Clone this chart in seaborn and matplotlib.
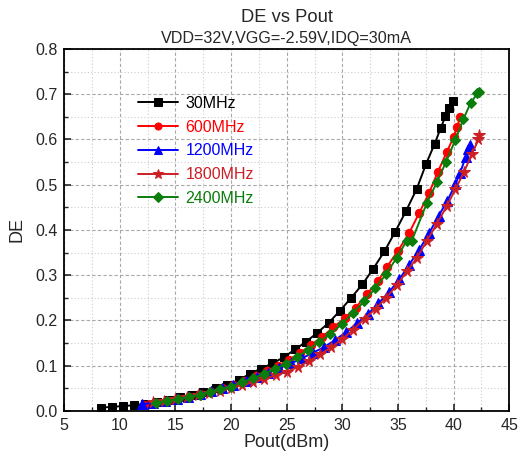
import numpy as np
import pandas as pd
import matplotlib
matplotlib.use("Agg")
import matplotlib.pyplot as plt
import seaborn as sns
from matplotlib.ticker import MultipleLocator

sns.set_style("ticks")
plt.rcParams['font.family'] = ['Liberation Sans', 'DejaVu Sans']

labels = ["30MHz", "600MHz", "1200MHz", "1800MHz", "2400MHz"]
colors = ["#000000", "#FF0000", "#0000FF", "#CC1F24", "#0A7D0A"]
markers = ["s", "o", "^", "*", "D"]

x_30 = [8.27, 9.26, 10.25, 11.24, 12.3, 13.3, 14.4, 15.4, 16.5, 17.5, 18.6, 19.6, 20.7,
        21.7, 22.69, 23.71, 24.73, 25.75, 26.74, 27.76, 28.78, 29.77, 30.79, 31.81, 32.77,
        33.79, 34.75, 35.73, 36.69, 37.53, 38.31, 38.85, 39.27, 39.63, 39.99]
y_30 = [0.0074, 0.009, 0.011, 0.0125, 0.016, 0.020, 0.025, 0.030, 0.036, 0.042, 0.050, 0.058, 0.068,
        0.0825, 0.0935, 0.1053, 0.1186, 0.136, 0.153, 0.173, 0.195, 0.221, 0.250, 0.280, 0.314,
        0.353, 0.396, 0.442, 0.491, 0.546, 0.591, 0.626, 0.651, 0.670, 0.684]

x_600 = [12.2, 13.2, 14.2, 15.2, 16.2, 17.2, 18.2, 19.2, 20.2, 21.2, 22.2, 23.2, 24.2, 25.2, 26.2,
         27.2, 28.2, 29.2, 30.2, 31.2, 32.2, 33.2, 34.0, 35.0, 36.0, 36.9, 37.8, 38.6, 39.4, 40.0,
         40.35, 40.55]
y_600 = [0.014, 0.018, 0.022, 0.027, 0.032, 0.037, 0.043, 0.050, 0.058, 0.067, 0.077, 0.088, 0.100,
         0.113, 0.128, 0.146, 0.164, 0.185, 0.205, 0.228, 0.258, 0.287, 0.318, 0.354, 0.393, 0.437,
         0.482, 0.529, 0.573, 0.605, 0.628, 0.649]

x_1200 = [12.0, 13.0, 14.1, 15.1, 16.1, 17.2, 18.2, 19.2, 20.2, 21.3, 22.3, 23.32, 24.34, 25.36,
          26.35, 27.37, 28.36, 29.35, 30.34, 31.33, 32.29, 33.25, 34.2, 35.13, 36.0, 36.9, 37.8,
          38.67, 39.45, 40.16, 40.6, 41.1, 41.34, 41.49]
y_1200 = [0.015, 0.018, 0.022, 0.027, 0.032, 0.038, 0.044, 0.051, 0.058, 0.067, 0.076, 0.085, 0.095,
          0.105, 0.116, 0.129, 0.141, 0.157, 0.174, 0.194, 0.214, 0.238, 0.263, 0.291, 0.323, 0.356,
          0.393, 0.432, 0.465, 0.501, 0.527, 0.562, 0.579, 0.588]

x_1800 = [13.0, 14.0, 15.0, 16.0, 17.0, 18.0, 19.0, 20.0, 21.0, 22.0, 23.0, 24.0, 25.0, 26.0, 27.0,
          28.0, 29.0, 30.0, 31.0, 32.0, 33.0, 33.93, 34.89, 35.82, 36.72, 37.59, 38.49, 39.39, 40.17,
          40.95, 41.67, 42.24, 42.33]
y_1800 = [0.019, 0.022, 0.026, 0.030, 0.035, 0.040, 0.045, 0.051, 0.057, 0.064, 0.071, 0.079, 0.087,
          0.097, 0.110, 0.125, 0.141, 0.159, 0.180, 0.204, 0.226, 0.250, 0.278, 0.309, 0.339, 0.376,
          0.413, 0.453, 0.490, 0.529, 0.569, 0.600, 0.611]

x_2400 = [13.25, 14.2, 15.2, 16.2, 17.2, 18.1, 19.0, 19.96, 20.95, 21.94, 22.96, 23.95, 24.94, 25.93,
          26.92, 27.94, 28.93, 29.95, 30.94, 31.96, 32.94, 33.96, 34.89, 35.79, 36.24, 37.59, 38.49,
          39.33, 40.16, 40.88, 41.54, 42.15, 42.3]
y_2400 = [0.018, 0.022, 0.026, 0.031, 0.036, 0.042, 0.048, 0.054, 0.063, 0.072, 0.082, 0.093, 0.104,
          0.120, 0.135, 0.153, 0.170, 0.192, 0.216, 0.242, 0.271, 0.303, 0.339, 0.376, 0.376, 0.459,
          0.505, 0.551, 0.599, 0.645, 0.681, 0.702, 0.706]

xs = [x_30, x_600, x_1200, x_1800, x_2400]
ys = [y_30, y_600, y_1200, y_1800, y_2400]

fig = plt.figure(figsize=(5.18, 4.57), dpi=100)
ax = fig.add_axes([0.124, 0.1007, 0.859, 0.7921])

for lab, col, mk, xv, yv in zip(labels, colors, markers, xs, ys):
    ms = 6 if mk in ("s", "o") else (5.5 if mk == "D" else (7 if mk == "^" else 8.5))
    sns.lineplot(x=xv, y=yv, ax=ax, color=col, marker=mk, markersize=ms,
                 markeredgecolor=col, linewidth=1.4, sort=False, label=lab,
                 estimator=None)

ax.set_xlim(5, 45)
ax.set_ylim(0, 0.8)
ax.xaxis.set_major_locator(MultipleLocator(5))
ax.xaxis.set_minor_locator(MultipleLocator(2.5))
ax.yaxis.set_major_locator(MultipleLocator(0.1))
ax.yaxis.set_minor_locator(MultipleLocator(0.05))
ax.set_yticks(np.arange(0, 0.81, 0.1))
ax.set_yticklabels([f"{v:.1f}" for v in np.arange(0, 0.81, 0.1)])
ax.grid(which='major', color='#A8A8A8', linestyle=(0, (3, 2)), linewidth=0.8)
ax.grid(which='minor', color='#CCCCCC', linestyle=(0, (1, 2)), linewidth=0.8)
ax.set_axisbelow(True)
ax.tick_params(which='major', direction='in', length=5, width=1.2, labelsize=11.5, pad=5)
ax.tick_params(which='minor', direction='in', length=3, width=1.0)
for s in ax.spines.values():
    s.set_linewidth(1.3)
    s.set_color('black')

ax.set_xlabel("Pout(dBm)", fontsize=13, labelpad=1)
ax.set_ylabel("DE", fontsize=13, labelpad=7)

fig.text(0.5 * (0.124 + 0.983), 1 - 17 / 457, "DE vs Pout", ha='center', va='center', fontsize=13.2)
fig.text(0.5 * (0.124 + 0.983), 1 - 39 / 457, "VDD=32V,VGG=-2.59V,IDQ=30mA", ha='center',
         va='center', fontsize=11.6)

leg = ax.legend(loc='upper left', bbox_to_anchor=(0.152, 0.888), frameon=False, fontsize=11.5,
                handlelength=2.5, labelspacing=0.55, handletextpad=0.45, labelcolor='linecolor',
                borderaxespad=0, markerscale=0.85)

fig.savefig("out.png", dpi=100)
